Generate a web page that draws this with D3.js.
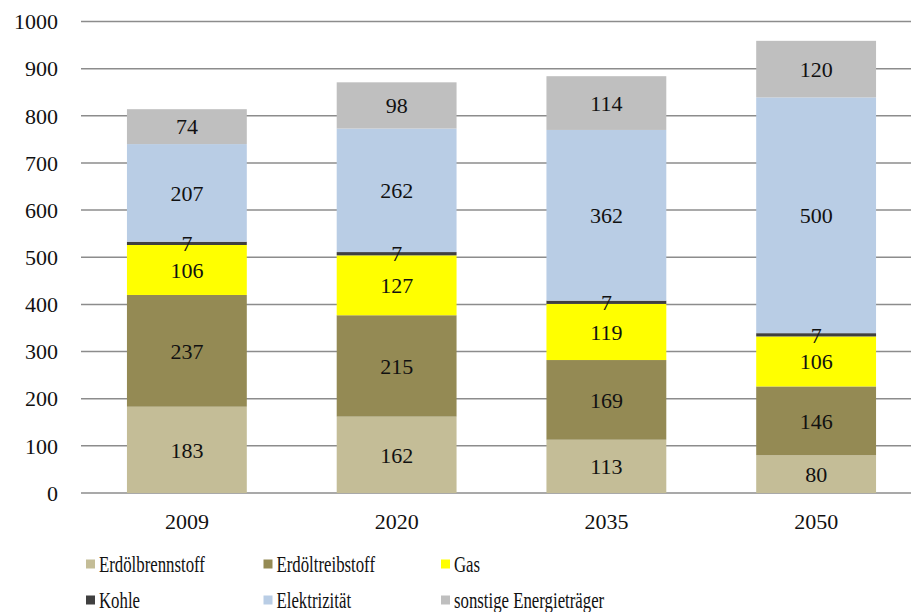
<!DOCTYPE html>
<html>
<head>
<meta charset="utf-8">
<script src="https://cdn.jsdelivr.net/npm/d3@7"></script>
<style>
  body { margin: 0; background: #fff; }
  svg { display: block; }
</style>
</head>
<body>
<svg id="chart" width="911" height="612"></svg>
<script>
// data
const years = ["2009", "2020", "2035", "2050"]
const seriesNames = ["Erdölbrennstoff", "Erdöltreibstoff", "Gas", "Kohle", "Elektrizität", "sonstige Energieträger"]
const erdoelbrenn = [183, 162, 113, 80]
const erdoeltreib = [237, 215, 169, 146]
const gas = [106, 127, 119, 106]
const kohle = [7, 7, 7, 7]
const elektrizitaet = [207, 262, 362, 500]
const sonstige = [74, 98, 114, 120]
const yTicks = [0, 100, 200, 300, 400, 500, 600, 700, 800, 900, 1000]
const colors = ["#c4bd97", "#948a54", "#ffff00", "#404040", "#b9cde5", "#bfbfbf"]

const seriesValues = [erdoelbrenn, erdoeltreib, gas, kohle, elektrizitaet, sonstige]
const rows = years.map((yr, i) => {
    const r = { year: yr }
    seriesNames.forEach((s, j) => r[s] = seriesValues[j][i])
    return r
})

const svg = d3.select("#chart")
const plotLeft = 82, plotRight = 921, plotTop = 21.5, plotBottom = 493
const serif = '"Liberation Serif"'

const x = d3.scaleBand().domain(years).range([plotLeft, plotRight]).paddingInner(0.4286).paddingOuter(0.2143)
const y = d3.scaleLinear().domain([0, 1000]).range([plotBottom, plotTop])

// grid
svg.append("g")
    .selectAll("line")
    .data(yTicks)
    .enter()
    .append("line")
    .attr("x1", plotLeft - 1)
    .attr("x2", 911)
    .attr("y1", d => y(d))
    .attr("y2", d => y(d))
    .attr("stroke", "#8c8c8c")
    .attr("stroke-width", 1.5)

// y labels
svg.append("g")
    .selectAll("text")
    .data(yTicks)
    .enter()
    .append("text")
    .attr("x", 58)
    .attr("y", d => y(d))
    .attr("dy", "0.35em")
    .attr("text-anchor", "end")
    .style("font-family", serif)
    .style("font-size", "22px")
    .attr("fill", "#111")
    .text(d => d)

// stacked bars
const stacked = d3.stack().keys(seriesNames)(rows)

const layer = svg.append("g")
    .selectAll("g")
    .data(stacked)
    .enter()
    .append("g")
    .attr("fill", (d, i) => colors[i])

layer.selectAll("rect")
    .data(d => d)
    .enter()
    .append("rect")
    .attr("x", d => x(d.data.year))
    .attr("width", x.bandwidth())
    .attr("y", d => y(d[1]))
    .attr("height", d => y(d[0]) - y(d[1]))

// value labels
svg.append("g")
    .selectAll("g")
    .data(stacked)
    .enter()
    .append("g")
    .selectAll("text")
    .data(d => d.map(v => ({ v: v, val: v[1] - v[0] })))
    .enter()
    .append("text")
    .attr("x", d => x(d.v.data.year) + x.bandwidth() / 2)
    .attr("y", d => (y(d.v[0]) + y(d.v[1])) / 2)
    .attr("dy", "0.35em")
    .attr("text-anchor", "middle")
    .style("font-family", serif)
    .style("font-size", "22px")
    .attr("fill", "#111")
    .text(d => d.val)

// x labels
svg.append("g")
    .selectAll("text")
    .data(years)
    .enter()
    .append("text")
    .attr("x", d => x(d) + x.bandwidth() / 2)
    .attr("y", 521)
    .attr("dy", "0.35em")
    .attr("text-anchor", "middle")
    .style("font-family", serif)
    .style("font-size", "22px")
    .attr("fill", "#111")
    .text(d => d)

// legend
const legend = svg.append("g")
    .selectAll("g")
    .data(seriesNames)
    .enter()
    .append("g")
    .attr("transform", (d, i) => `translate(${86 + (i % 3) * 177.5}, ${564 + Math.floor(i / 3) * 36})`)

legend.append("rect")
    .attr("x", 0)
    .attr("y", -4.5)
    .attr("width", 9)
    .attr("height", 9)
    .attr("fill", (d, i) => colors[i])

// garamond-like width: squeeze the wider serif a bit
legend.append("text")
    .attr("transform", "translate(13,0) scale(0.73,1)")
    .attr("dy", "0.33em")
    .style("font-family", serif)
    .style("font-size", "23px")
    .attr("fill", "#111")
    .text(d => d)
</script>
</body>
</html>
